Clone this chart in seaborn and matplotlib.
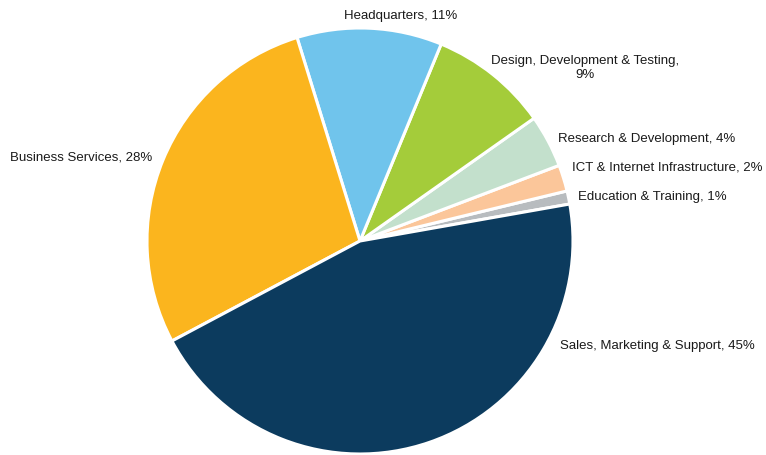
import matplotlib
matplotlib.use("Agg")
import matplotlib.pyplot as plt
import seaborn as sns

# Share of activity by business function (%)
categories = [
    "Education & Training",
    "ICT & Internet Infrastructure",
    "Research & Development",
    "Design, Development & Testing",
    "Headquarters",
    "Business Services",
    "Sales, Marketing & Support",
]
shares = [1, 2, 4, 9, 11, 28, 45]
colors = ["#B8BCBF", "#FBC69A", "#C3E0CC", "#A4CC3A", "#70C4EC", "#FBB51E", "#0C3B5E"]

# Text anchors (x, y from top-left, horizontal alignment) for each label
label_layout = {
    "Education & Training": (578, 197, "left"),
    "ICT & Internet Infrastructure": (572, 167, "left"),
    "Research & Development": (558, 139, "left"),
    "Design, Development & Testing": (585, 68, "center"),
    "Headquarters": (401, 16, "center"),
    "Business Services": (152, 158, "right"),
    "Sales, Marketing & Support": (560, 346, "left"),
}

sns.set_theme(style="white")
plt.rcParams["font.family"] = ["Liberation Sans", "DejaVu Sans"]

W, H = 766, 455
fig = plt.figure(figsize=(W / 100, H / 100), dpi=100)
ax = fig.add_axes([0, 0, 1, 1])

cx, cy, radius = 360, H - 241, 213
ax.pie(
    shares,
    colors=colors,
    startangle=10,
    counterclock=True,
    center=(cx, cy),
    radius=radius,
    wedgeprops=dict(edgecolor="white", linewidth=2.2),
    frame=True,
)
ax.set_xlim(0, W)
ax.set_ylim(0, H)
ax.set_axis_off()

for name, val in zip(categories, shares):
    x, y, ha = label_layout[name]
    if name.startswith("Design"):
        text = f"{name},\n{val}%"
    else:
        text = f"{name}, {val}%"
    ax.text(x, H - y, text, ha=ha, va="center", fontsize=9.5,
            color="#1a1a1a", multialignment="center", linespacing=1.25)

fig.savefig("out.png", dpi=100)
